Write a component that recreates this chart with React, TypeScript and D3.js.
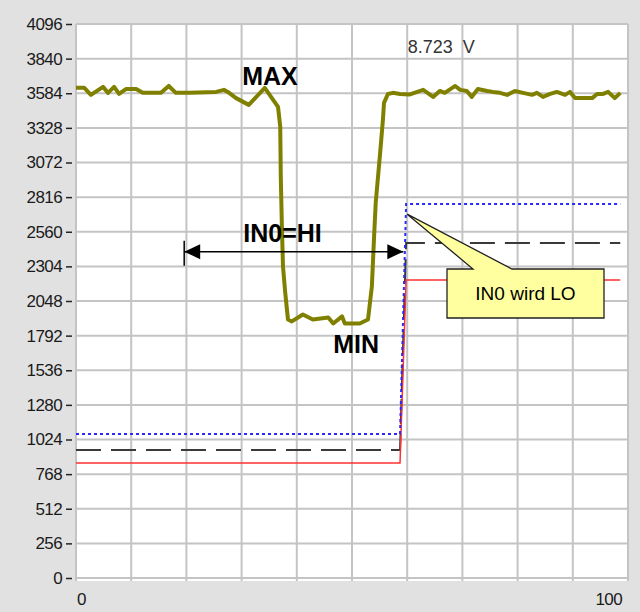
import { useRef, useEffect } from 'react';
import * as d3 from 'd3';

// olive input signal
const signal: [number, number][] = [
  [0, 3624], [1.5, 3624], [2.7, 3572], [4.9, 3631], [5.8, 3587], [6.9, 3631], [7.8, 3579],
  [9.1, 3616], [10.9, 3616], [12.1, 3587], [15.4, 3587], [16.8, 3638], [18.1, 3587], [20.5, 3587],
  [25.4, 3594], [26.8, 3609], [27.5, 3594], [29.0, 3548], [31.3, 3498], [34.2, 3624], [36.6, 3483],
  [37.0, 3336], [37.1, 2967], [37.3, 2598], [37.5, 2302], [37.9, 2111], [38.4, 1911], [39.1, 1897],
  [41.1, 1948], [42.9, 1911], [45.7, 1926], [46.6, 1882], [48.2, 1934], [48.7, 1882], [51.4, 1882],
  [52.9, 1911], [53.6, 2155], [54.0, 2524], [54.3, 2775], [55.1, 3144], [55.6, 3387], [55.8, 3513],
  [56.5, 3579], [57.4, 3587], [58.7, 3579], [60.5, 3575], [62.9, 3609], [64.7, 3557], [65.9, 3601],
  [66.8, 3587], [68.7, 3638], [69.6, 3609], [70.8, 3601], [71.7, 3557], [72.8, 3616], [74.5, 3601],
  [75.5, 3594], [76.8, 3587], [78.1, 3572], [79.5, 3601], [81.0, 3587], [82.6, 3572], [83.5, 3587],
  [84.6, 3557], [85.9, 3579], [87.1, 3594], [88.6, 3572], [89.5, 3594], [90.4, 3548], [93.5, 3548],
  [94.4, 3579], [95.5, 3579], [96.4, 3594], [97.6, 3548], [98.6, 3587],
];

// switching thresholds
const stepX = [0, 58.7, 59.8, 98.6];
const redLevel = [850, 850, 2203, 2203];
const blackLevel = [946, 946, 2477, 2477];
const blueLevel = [1065, 1065, 2765, 2765];

const yTicks = d3.range(0, 4097, 256);
const xGrid = d3.range(0, 101, 10);
const xTickLabels = [0, 100];

const FONT = '"Liberation Sans", Arial, sans-serif';

export default function App() {
  const svgRef = useRef<SVGSVGElement>(null);

  const width = 640;
  const height = 612;
  const margin = { top: 24, right: 12, bottom: 34, left: 76 };

  useEffect(() => {
    const svg = d3.select(svgRef.current);
    svg.selectAll('*').remove();

    const x = d3.scaleLinear().domain([0, 100]).range([margin.left, width - margin.right]);
    const y = d3.scaleLinear().domain([0, 4096]).range([height - margin.bottom, margin.top]);

    svg.append('rect').attr('width', width).attr('height', height).attr('fill', '#e1e1e1');
    svg.append('rect')
      .attr('x', x(0)).attr('y', y(4096) - 1)
      .attr('width', x(100) - x(0)).attr('height', y(0) - y(4096) + 4)
      .attr('fill', '#fff');

    // grid
    svg.append('g').selectAll('line').data(yTicks).join('line')
      .attr('x1', x(0)).attr('x2', x(100))
      .attr('y1', d => y(d)).attr('y2', d => y(d))
      .attr('stroke', '#c4c4c4').attr('stroke-width', 2);
    svg.append('g').selectAll('line').data(xGrid).join('line')
      .attr('x1', d => x(d)).attr('x2', d => x(d))
      .attr('y1', y(4096)).attr('y2', y(0) + 3)
      .attr('stroke', '#c4c4c4').attr('stroke-width', 2);

    // y axis
    const yAxis = d3.axisLeft(y).tickValues(yTicks).tickSize(6).tickPadding(4).tickFormat(d3.format('d'));
    const gy = svg.append('g').attr('transform', `translate(${x(0) - 4},0)`).call(yAxis);
    gy.select('.domain').remove();
    gy.selectAll('line').attr('stroke', '#222').attr('stroke-width', 1.5);
    gy.selectAll('text').attr('font-family', FONT).attr('font-size', 17).attr('fill', '#1a1a1a')
      .attr('letter-spacing', -0.6);

    // x labels
    svg.append('g').selectAll('text').data(xTickLabels).join('text')
      .attr('x', d => (d === 0 ? x(d) + 1 : x(d) - 6))
      .attr('y', 605)
      .attr('text-anchor', d => (d === 0 ? 'start' : 'end'))
      .attr('font-family', FONT).attr('font-size', 17).attr('fill', '#1a1a1a')
      .attr('letter-spacing', -0.6)
      .text(d => d);

    const step = (levels: number[]) =>
      d3.line<number>().x((_, i) => x(stepX[i])).y(d => y(d))(levels);

    svg.append('path').attr('d', step(blackLevel)).attr('fill', 'none')
      .attr('stroke', '#3a3a3a').attr('stroke-width', 2).attr('stroke-dasharray', '25,10');
    svg.append('path').attr('d', step(redLevel)).attr('fill', 'none')
      .attr('stroke', '#ff3030').attr('stroke-width', 1.5);
    svg.append('path').attr('d', step(blueLevel)).attr('fill', 'none')
      .attr('stroke', '#2a2aff').attr('stroke-width', 2).attr('stroke-dasharray', '3,3');

    const line = d3.line<[number, number]>().x(d => x(d[0])).y(d => y(d[1]));
    svg.append('path').datum(signal).attr('d', line).attr('fill', 'none')
      .attr('stroke', '#808000').attr('stroke-width', 4).attr('stroke-linejoin', 'round');

    // annotations
    const bold = (t: string, px: number, py: number) =>
      svg.append('text').attr('x', px).attr('y', py).text(t)
        .attr('font-family', FONT).attr('font-weight', 'bold').attr('font-size', 25).attr('fill', '#000');
    bold('MAX', x(30.1), 85);
    bold('MIN', x(46.6), 353);
    bold('IN0=HI', x(30.3), 242);
    svg.append('text').attr('x', x(60.1)).attr('y', 53).text('8.723  V')
      .attr('font-family', FONT).attr('font-size', 18).attr('fill', '#333').style('white-space', 'pre');

    // IN0=HI arrow
    const ay = y(2413);
    const ax1 = x(19.6);
    const ax2 = x(59.3);
    const arrow = svg.append('g').attr('stroke', '#000').attr('fill', '#000');
    arrow.append('line').attr('x1', ax1).attr('x2', ax2).attr('y1', ay).attr('y2', ay).attr('stroke-width', 1.5);
    arrow.append('line').attr('x1', ax1).attr('x2', ax1).attr('y1', ay - 11).attr('y2', ay + 14).attr('stroke-width', 1.5);
    arrow.append('path').attr('d', `M${ax1},${ay}L${ax1 + 16},${ay - 7.5}L${ax1 + 16},${ay + 7.5}Z`).attr('stroke', 'none');
    arrow.append('path').attr('d', `M${ax2},${ay}L${ax2 - 16},${ay - 7.5}L${ax2 - 16},${ay + 7.5}Z`).attr('stroke', 'none');

    // callout
    const bx0 = 447, bx1 = 604, by0 = 269, by1 = 318;
    const tip = [x(60.0), y(2690)];
    svg.append('path')
      .attr('d', `M${bx0},${by0}L473,${by0}L${tip[0]},${tip[1]}L512,${by0}L${bx1},${by0}L${bx1},${by1}L${bx0},${by1}Z`)
      .attr('fill', '#ffffa0').attr('stroke', '#222').attr('stroke-width', 1.3);
    svg.append('text').attr('x', (bx0 + bx1) / 2).attr('y', 300).attr('text-anchor', 'middle')
      .attr('font-family', FONT).attr('font-size', 19).attr('fill', '#000').text('IN0 wird LO');
  }, []);

  return (
    <svg ref={svgRef} width={width} height={height} style={{ position: 'absolute', left: 0, top: 0 }}></svg>
  );
}
